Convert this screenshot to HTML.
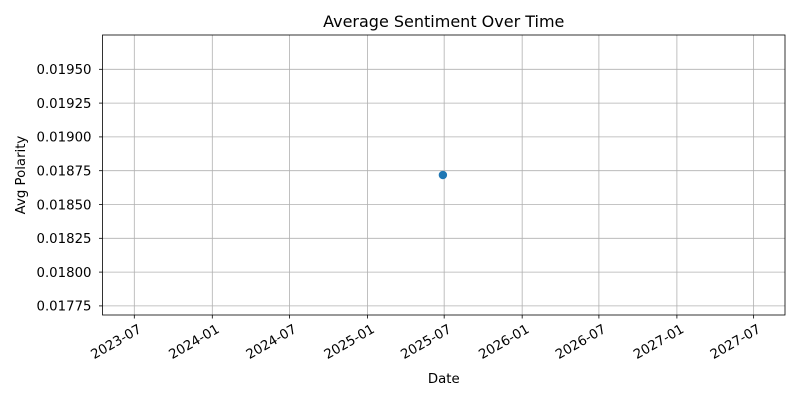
<!DOCTYPE html>
<html><head><meta charset="utf-8"><style>
body{margin:0;background:#fff;font-family:"Liberation Sans","DejaVu Sans",sans-serif}
svg text{font-family:"DejaVu Sans","Liberation Sans",sans-serif;fill:#000}
</style></head><body>
<svg id="c" width="800" height="400"></svg>
<script>
const tickLabels=["2023-07","2024-01","2024-07","2025-01","2025-07","2026-01","2026-07","2027-01","2027-07"];
const yTicks=[0.01775,0.01800,0.01825,0.01850,0.01875,0.01900,0.01925,0.01950];
const dates=["2025-06-28"];
const values=[0.018718];
const L=102.5,R=785,T=35,B=315;
const t0=Date.UTC(2023,6,1)/864e5, pxDay=0.4239;
const dayOf=s=>{const p=s.split('-');return Date.UTC(+p[0],+p[1]-1,+(p[2]||1))/864e5;};
const xs=s=>134.3+(dayOf(s)-t0)*pxDay;
const ys=v=>69.3+(0.01950-v)/0.00025*33.8;
const svg=document.getElementById('c');const NS="http://www.w3.org/2000/svg";
function mk(tag,a,txt){const e=document.createElementNS(NS,tag);for(const k in a)e.setAttribute(k,a[k]);if(txt!=null)e.textContent=txt;svg.appendChild(e);return e;}
tickLabels.forEach(l=>{const x=xs(l);
 const g=mk('line',{x1:x,x2:x,y1:T,y2:B,stroke:'#b0b0b0','stroke-width':0.8});
 
 const tk=mk('line',{x1:x,x2:x,y1:B,y2:B+3.5,stroke:'#000','stroke-width':0.8});
 
 const t=mk('text',{x:0,y:0,'font-size':13.3,'text-anchor':'end',transform:`translate(${x+3},${B+8}) rotate(-30)`,dy:'0.75em'},l);
 
});
yTicks.forEach(v=>{const y=ys(v);
 const g=mk('line',{x1:L,x2:R,y1:y,y2:y,stroke:'#b0b0b0','stroke-width':0.8});
 
 const tk=mk('line',{x1:L-3.5,x2:L,y1:y,y2:y,stroke:'#000','stroke-width':0.8});
 
 const t=mk('text',{x:L-11,y:y+4.8,'font-size':13.3,'text-anchor':'end'},v.toFixed(5));
 
});
const fr=mk('rect',{x:L,y:T,width:R-L,height:B-T,fill:'none',stroke:'#000','stroke-width':0.8});

dates.forEach((d,i)=>{const p=mk('circle',{cx:xs(d),cy:ys(values[i]),r:4.2,fill:'#1f77b4'});
 });
const ti=mk('text',{x:(L+R)/2,y:27,'font-size':16,'text-anchor':'middle'},'Average Sentiment Over Time');

const xl=mk('text',{x:(L+R)/2,y:383,'font-size':13.3,'text-anchor':'middle'},'Date');

const yl=mk('text',{x:0,y:0,'font-size':13.3,'text-anchor':'middle',transform:`translate(25,${(T+B)/2}) rotate(-90)`},'Avg Polarity');

</script>
</body></html>
